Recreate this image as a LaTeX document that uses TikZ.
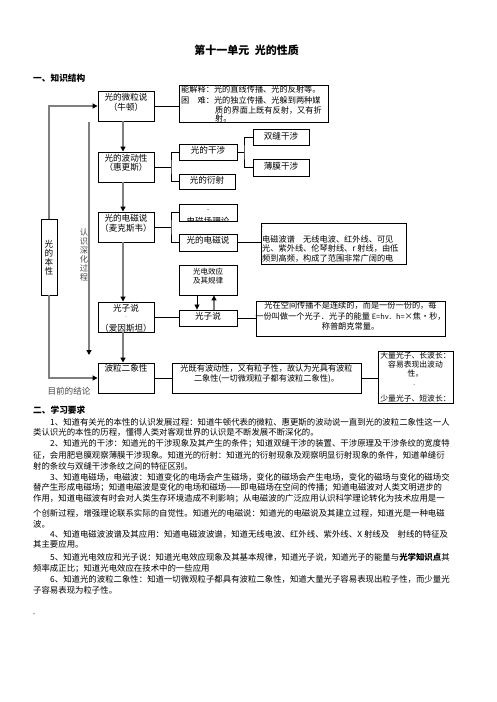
\documentclass[tikz,border=0pt]{standalone}
\usepackage{fontspec}
\setmainfont{Noto Sans CJK SC}
\usetikzlibrary{arrows.meta}
\XeTeXlinebreaklocale "zh"
\XeTeXlinebreakskip=0pt plus 1.5pt
\XeTeXlinebreakpenalty=0
\definecolor{lgray}{HTML}{7F7F7F}
\definecolor{tgray}{HTML}{4A4A4A}
\begin{document}
\begin{tikzpicture}[x=1pt,y=-1pt,
  box/.style={draw=black, line width=0.9pt, inner sep=0pt},
  dt/.style={inner sep=0pt, font=\fontsize{8.6pt}{10pt}\selectfont, text height=7.57pt, text depth=1.03pt},
  pt/.style={inner sep=0pt, font=\fontsize{8.2pt}{10pt}\selectfont, text height=7.2pt, text depth=1pt},
  st/.style={inner sep=0pt, font=\fontsize{7.5pt}{9pt}\selectfont, text height=6.6pt, text depth=0.9pt},
  vt/.style={inner sep=0pt, font=\fontsize{8.2pt}{9pt}\selectfont, text height=7.2pt, text depth=1pt, text=tgray},
  rt/.style={inner sep=0pt, font=\fontsize{7.8pt}{9pt}\selectfont, text height=6.86pt, text depth=0.94pt},
  bt/.style={inner sep=0pt, anchor=west, font=\fontsize{8.4pt}{10pt}\selectfont, text height=7.39pt, text depth=1.01pt},
  ht/.style={inner sep=0pt, anchor=west, font=\fontsize{8.7pt}{10pt}\selectfont\bfseries, text height=7.66pt, text depth=1.04pt},
  conn/.style={draw=black, line width=0.8pt},
  garrow/.style={draw=lgray, line width=1.6pt, -{Triangle[length=5pt,width=5pt,color=black]}},
  karrow/.style={draw=black, line width=0.8pt, -{Triangle[length=5pt,width=5pt,color=black]}},
  looparrow/.style={draw=lgray, line width=1.3pt, -{Triangle[length=5pt,width=5pt,color=black]}}
]
\useasboundingbox (0,0) rectangle (496,702);
\fill[white] (0,0) rectangle (496,702);

% title and headings
\node[inner sep=0pt, font=\fontsize{11pt}{13pt}\selectfont\bfseries] (title) at (246.5,50) {第十一单元\hspace{0.5em}光的性质};
\node[ht] (h1) at (33,78) {一、知识结构};

% left column boxes
\node[box, minimum width=56pt, minimum height=30pt] (newton) at (126,106) {};
\node[dt] (newtona) at (126,97) {光的微粒说};
\node[dt] (newtonb) at (126,107) {（牛顿）};

\node[box, minimum width=56pt, minimum height=30pt] (huygens) at (126,167) {};
\node[dt] (huygensa) at (126,158) {光的波动性};
\node[dt] (huygensb) at (126,167.5) {（惠更斯）};

\node[box, minimum width=56pt, minimum height=30pt] (maxwell) at (126,227) {};
\node[dt] (maxwella) at (126,218) {光的电磁说};
\node[dt] (maxwellb) at (126,228) {（麦克斯韦）};

\node[box, minimum width=56pt, minimum height=30pt] (einstein) at (126,317) {};
\node[dt] (einsteina) at (126,308) {光子说};
\node[inner sep=0pt, font=\tiny, text=lgray] (einsteinm) at (126,318) {-};
\node[dt] (einsteinb) at (126,328) {（爱因斯坦）};

\node[box, minimum width=56pt, minimum height=30pt] (dual) at (126,378) {};
\node[dt] (duala) at (126,368) {波粒二象性};

% nature box
\node[box, minimum width=16pt, minimum height=76pt] (nature) at (49,257) {};
\node[dt] (nat1) at (49,244) {光};
\node[dt] (nat2) at (49,253) {的};
\node[dt] (nat3) at (49,262) {本};
\node[dt] (nat4) at (49,271) {性};

% deepening arrow label
\node[vt] (k1t) at (84,232) {认};
\node[vt] (k2t) at (84,241) {识};
\node[vt] (k3t) at (84,250) {深};
\node[vt] (k4t) at (84,259) {化};
\node[vt] (k5t) at (84,268) {过};
\node[vt] (k6t) at (84,277) {程};
\node[dt, text=tgray] (concl) at (69,391) {目前的结论};

% particle explanation box
\node[box, minimum width=149pt, minimum height=37pt] (ptext) at (253.5,103.5) {};
\node[pt, anchor=west] (pt1) at (181,89) {能解释：光的直线传播、光的反射等。};
\node[pt, anchor=west] (pt2) at (181,100) {\makebox[3em][s]{困\hfill 难}：光的独立传播、光躲到两种媒};
\node[pt, anchor=west] (pt3) at (215,110) {质的界面上既有反射，又有折};
\node[pt, anchor=west] (pt4) at (215,118) {射。};

% interference / diffraction
\node[box, minimum width=58pt, minimum height=16pt] (interf) at (208,152) {};
\node[dt] (interft) at (208,150.5) {光的干涉};
\node[box, minimum width=56pt, minimum height=15pt] (diffr) at (207,181.5) {};
\node[dt] (diffrt) at (207,180.5) {光的衍射};
\node[box, minimum width=56pt, minimum height=16pt] (dslit) at (281,137) {};
\node[dt] (dslitt) at (281,136) {双缝干涉};
\node[box, minimum width=56pt, minimum height=17pt] (film) at (281,167.5) {};
\node[dt] (filmt) at (281,166) {薄膜干涉};

% EM boxes
\node[box, minimum width=58pt, minimum height=17pt] (emfield) at (208,212.5) {};
\begin{scope}
\clip (179,204) rectangle (237,221);
\node[dt] (emfieldt) at (208,221) {电磁场理论};
\end{scope}
\fill (208,209.5) circle (0.5pt);
\node[box, minimum width=58pt, minimum height=17pt] (emtheory) at (208,242.5) {};
\node[dt] (emtheoryt) at (208,240) {光的电磁说};

\node[box, minimum width=145pt, minimum height=41pt] (spectrum) at (333.5,243.5) {};
\node[inner sep=0pt, font=\tiny, anchor=west] (spm) at (261.5,228.5) {'};
\node[pt, anchor=west] (sp1) at (262,239) {电磁波谱\hspace{1em}无线电波、红外线、可见};
\node[pt, anchor=west] (sp2) at (262,248.5) {光、紫外线、伦琴射线、r 射线，由低};
\node[pt, anchor=west] (sp3) at (262,258) {频到高频，构成了范围非常广阔的电};

% photoelectric
\node[box, minimum width=58pt, minimum height=30pt] (pe) at (208,280) {};
\node[st] (pea) at (208,272) {光电效应};
\node[st] (peb) at (208,281) {及其规律};
\node[box, minimum width=58pt, minimum height=16pt] (photon) at (208,318) {};
\node[dt] (photont) at (208,316.5) {光子说};

\node[box, minimum width=189pt, minimum height=35pt] (phtext) at (350.5,318.5) {};
\node[pt] (ph1) at (350.5,305) {光在空间传播不是连续的，而是一份一份的，每};
\node[pt] (ph2) at (350.5,316) {一份叫做一个光子．光子的能量{\fontsize{7.4pt}{9pt}\selectfont\ E=hν．h=}×焦·秒，};
\node[pt] (ph3) at (350.5,326) {称普朗克常量。};

% duality
\node[box, minimum width=189pt, minimum height=30pt] (dualtext) at (266.5,378) {};
\node[pt] (dt1) at (266.5,368) {光既有波动性，又有粒子性，故认为光具有波粒};
\node[pt] (dt2) at (266.5,378) {二象性(一切微观粒子都有波粒二象性)。};

\node[box, minimum width=75pt, minimum height=52pt] (dualright) at (415.5,377) {};
\node[rt] (dr1) at (415.5,355.5) {大量光子、长波长：};
\node[rt] (dr2) at (415.5,364.5) {容易表现出波动};
\node[rt] (dr3) at (415.5,373.5) {性。};
\node[inner sep=0pt, font=\tiny] (dr4) at (416,386) {'};
\node[rt] (dr5) at (415.5,399) {少量光子、短波长：};

% connectors
\draw[conn] (newton.east) -- (newton.east -| ptext.west);
\coordinate (b1) at (171,167);
\draw[conn] (huygens.east) -- (b1);
\draw[conn] (interf.west) -| (b1) |- (diffr.west);
\coordinate (b2) at (244,152);
\draw[conn] (interf.east) -- (b2);
\draw[conn] (dslit.west) -| (b2) |- (film.west);
\coordinate (b3) at (171,227);
\draw[conn] (maxwell.east) -- (b3);
\draw[conn] (emfield.west) -| (b3) |- (emtheory.west);
\draw[conn] (emtheory.east) -- (emtheory.east -| spectrum.west);
\draw[conn] (einstein.east) -- (einstein.east -| photon.west);
\draw[conn] (photon.east) -- (photon.east -| phtext.west);
\draw[conn] (dual.east) -- (dual.east -| dualtext.west);
\draw[conn] (dualtext.east) -- (dualtext.east -| dualright.west);

\draw[garrow] ([xshift=-3pt]newton.south) -- ([xshift=-3pt]huygens.north);
\draw[garrow] ([xshift=-3pt]huygens.south) -- ([xshift=-3pt]maxwell.north);
\draw[garrow] ([xshift=-3pt]maxwell.south) -- ([xshift=-3pt]einstein.north);
\draw[garrow] ([xshift=-3pt]einstein.south) -- ([xshift=-3pt]dual.north);

\draw[karrow] ([xshift=-11pt]pe.south) -- ([xshift=-11pt]photon.north);
\draw[garrow] ([xshift=6pt]photon.north) -- ([xshift=6pt]pe.south);

\coordinate (k1) at (89,122);
\coordinate (k2) at (89,355);
\draw[garrow] (k1) -- (k2);

\draw[looparrow] (nature.north) |- (newton.west);
\draw[looparrow] (nature.south) |- (dual.west);

% section two
\node[ht] (h2) at (33,410) {二、学习要求};
\node[bt] (l1) at (50,422) {\hbox to 412pt{1、知道有关光的本性的认识发展过程：知道牛顿代表的微粒、惠更斯的波动说一直到光的波粒二象性这一人}};
\node[bt] (l2) at (33,432.5) {类认识光的本性的历程，懂得人类对客观世界的认识是不断发展不断深化的。};
\node[bt] (l3) at (50,443.5) {\hbox to 412pt{2、知道光的干涉：知道光的干涉现象及其产生的条件；知道双缝干涉的装置、干涉原理及干涉条纹的宽度特}};
\node[bt] (l4) at (33,455) {\hbox to 429pt{征，会用肥皂膜观察薄膜干涉现象。知道光的衍射：知道光的衍射现象及观察明显衍射现象的条件，知道单缝衍}};
\node[bt] (l5) at (33,466) {射的条纹与双缝干涉条纹之间的特征区别。};
\node[bt] (l6) at (50,477) {\hbox to 412pt{3、知道电磁场，电磁波：知道变化的电场会产生磁场，变化的磁场会产生电场，变化的磁场与变化的磁场交}};
\node[bt] (l7) at (33,487.5) {\hbox to 429pt{替产生形成电磁场；知道电磁波是变化的电场和磁场——即电磁场在空间的传播；知道电磁波对人类文明进步的}};
\node[bt] (l8) at (33,498.5) {\hbox to 429pt{作用，知道电磁波有时会对人类生存环境造成不利影响；从电磁波的广泛应用认识科学理论转化为技术应用是一}};
\node[bt] (l9) at (33,513) {\hbox to 429pt{个创新过程，增强理论联系实际的自觉性。知道光的电磁说：知道光的电磁说及其建立过程，知道光是一种电磁}};
\node[bt] (l10) at (33,524) {波。};
\node[bt] (l11) at (50,534.5) {\hbox to 412pt{4、知道电磁波波谱及其应用：知道电磁波波谱，知道无线电波、红外线、紫外线、X\kern2pt 射线及\hspace{1em}射线的特征及}};
\node[bt] (l12) at (33,544.5) {其主要应用。};
\node[bt] (l13) at (50,557) {\hbox to 412pt{5、知道光电效应和光子说：知道光电效应现象及其基本规律，知道光子说，知道光子的能量与{\bfseries 光学知识点}其}};
\node[bt] (l14) at (33,568) {频率成正比；知道光电效应在技术中的一些应用};
\node[bt] (l15) at (50,579) {\hbox to 412pt{6、知道光的波粒二象性：知道一切微观粒子都具有波粒二象性，知道大量光子容易表现出粒子性，而少量光}};
\node[bt] (l16) at (33,590) {子容易表现为粒子性。};
\node[inner sep=0pt, font=\tiny, anchor=west] (mark) at (33,614) {、};
\end{tikzpicture}
\end{document}
